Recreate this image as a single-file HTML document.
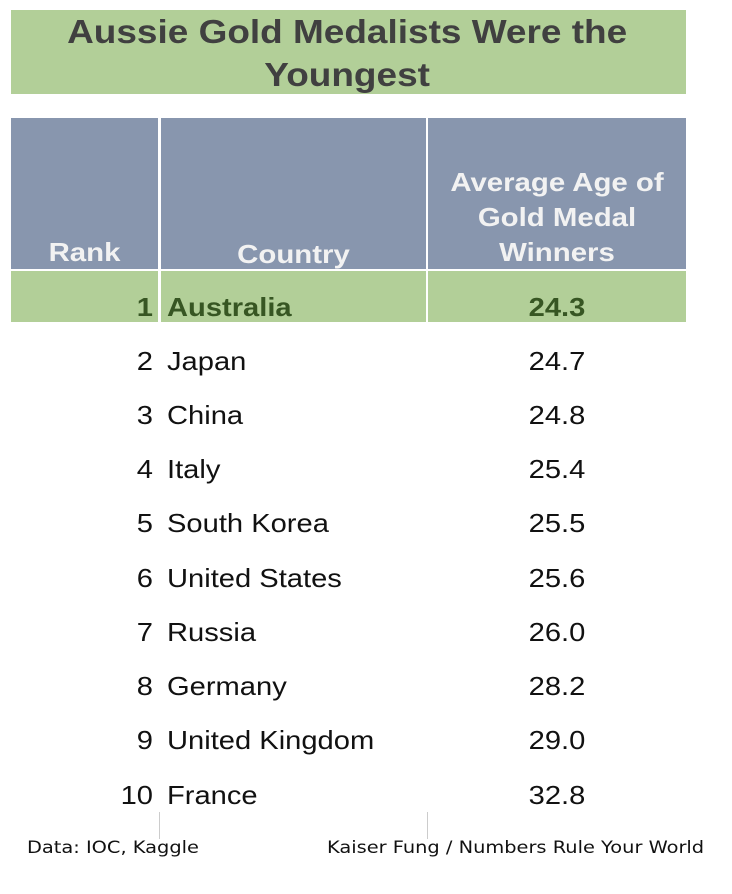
<!DOCTYPE html>
<html><head><meta charset="utf-8"><style>
body{margin:0;width:732px;height:894px;background:#fff;position:relative;font-family:"Liberation Sans",Arial,sans-serif;overflow:hidden}
.a{position:absolute}
.t{left:11px;top:10px;width:675px;height:84px;background:#b2cf98}
.tt{left:11px;top:10px;width:675px;color:#404040;font-weight:bold;font-size:33px;text-align:center;line-height:43px;padding-top:0px;transform:scaleX(1.12);transform-origin:349px 0}
.h{top:118px;height:151px;background:#8896ae}
.ht{color:#f2f2f2;font-weight:bold;font-size:26px;text-align:center;line-height:35px;transform:scaleX(1.13)}
.r{font-size:26px;color:#111;line-height:30px;transform:scaleX(1.12)}
.rk{left:60px;width:93px;text-align:right;transform-origin:right center}
.c{left:167px;transform-origin:left center}
.v{left:428px;width:258px;text-align:center}
.f{font-family:"DejaVu Sans",Verdana,sans-serif;font-size:17px;color:#111;top:838px;transform:scaleX(1.14);transform-origin:left center}
</style></head><body>
<div class="a t"></div>
<div class="a tt">Aussie Gold Medalists Were the<br>Youngest</div>
<div class="a h" style="left:11px;width:147px"></div>
<div class="a h" style="left:161px;width:265px"></div>
<div class="a h" style="left:428px;width:258px"></div>
<div class="a ht" style="left:11px;width:147px;top:235px">Rank</div>
<div class="a ht" style="left:161px;width:265px;top:237px">Country</div>
<div class="a ht" style="left:428px;width:258px;top:165px">Average Age of<br>Gold Medal<br>Winners</div>
<div class="a" style="left:11px;top:271px;width:147px;height:51px;background:#b2cf98"></div>
<div class="a" style="left:161px;top:271px;width:265px;height:51px;background:#b2cf98"></div>
<div class="a" style="left:428px;top:271px;width:258px;height:51px;background:#b2cf98"></div>
<div class="a r rk" style="top:292px;color:#375623;font-weight:bold">1</div>
<div class="a r c" style="top:292px;color:#375623;font-weight:bold">Australia</div>
<div class="a r v" style="top:292px;color:#375623;font-weight:bold">24.3</div>
<div class="a r rk" style="top:346px">2</div><div class="a r c" style="top:346px">Japan</div><div class="a r v" style="top:346px">24.7</div>
<div class="a r rk" style="top:400px">3</div><div class="a r c" style="top:400px">China</div><div class="a r v" style="top:400px">24.8</div>
<div class="a r rk" style="top:454px">4</div><div class="a r c" style="top:454px">Italy</div><div class="a r v" style="top:454px">25.4</div>
<div class="a r rk" style="top:508px">5</div><div class="a r c" style="top:508px">South Korea</div><div class="a r v" style="top:508px">25.5</div>
<div class="a r rk" style="top:563px">6</div><div class="a r c" style="top:563px">United States</div><div class="a r v" style="top:563px">25.6</div>
<div class="a r rk" style="top:617px">7</div><div class="a r c" style="top:617px">Russia</div><div class="a r v" style="top:617px">26.0</div>
<div class="a r rk" style="top:671px">8</div><div class="a r c" style="top:671px">Germany</div><div class="a r v" style="top:671px">28.2</div>
<div class="a r rk" style="top:725px">9</div><div class="a r c" style="top:725px">United Kingdom</div><div class="a r v" style="top:725px">29.0</div>
<div class="a r rk" style="top:780px">10</div><div class="a r c" style="top:780px">France</div><div class="a r v" style="top:780px">32.8</div>
<div class="a" style="left:159px;top:812px;width:1px;height:27px;background:#ccc"></div>
<div class="a" style="left:427px;top:812px;width:1px;height:27px;background:#ccc"></div>
<div class="a f" style="left:27px">Data: IOC, Kaggle</div>
<div class="a f" style="left:327px">Kaiser Fung / Numbers Rule Your World</div>
</body></html>
